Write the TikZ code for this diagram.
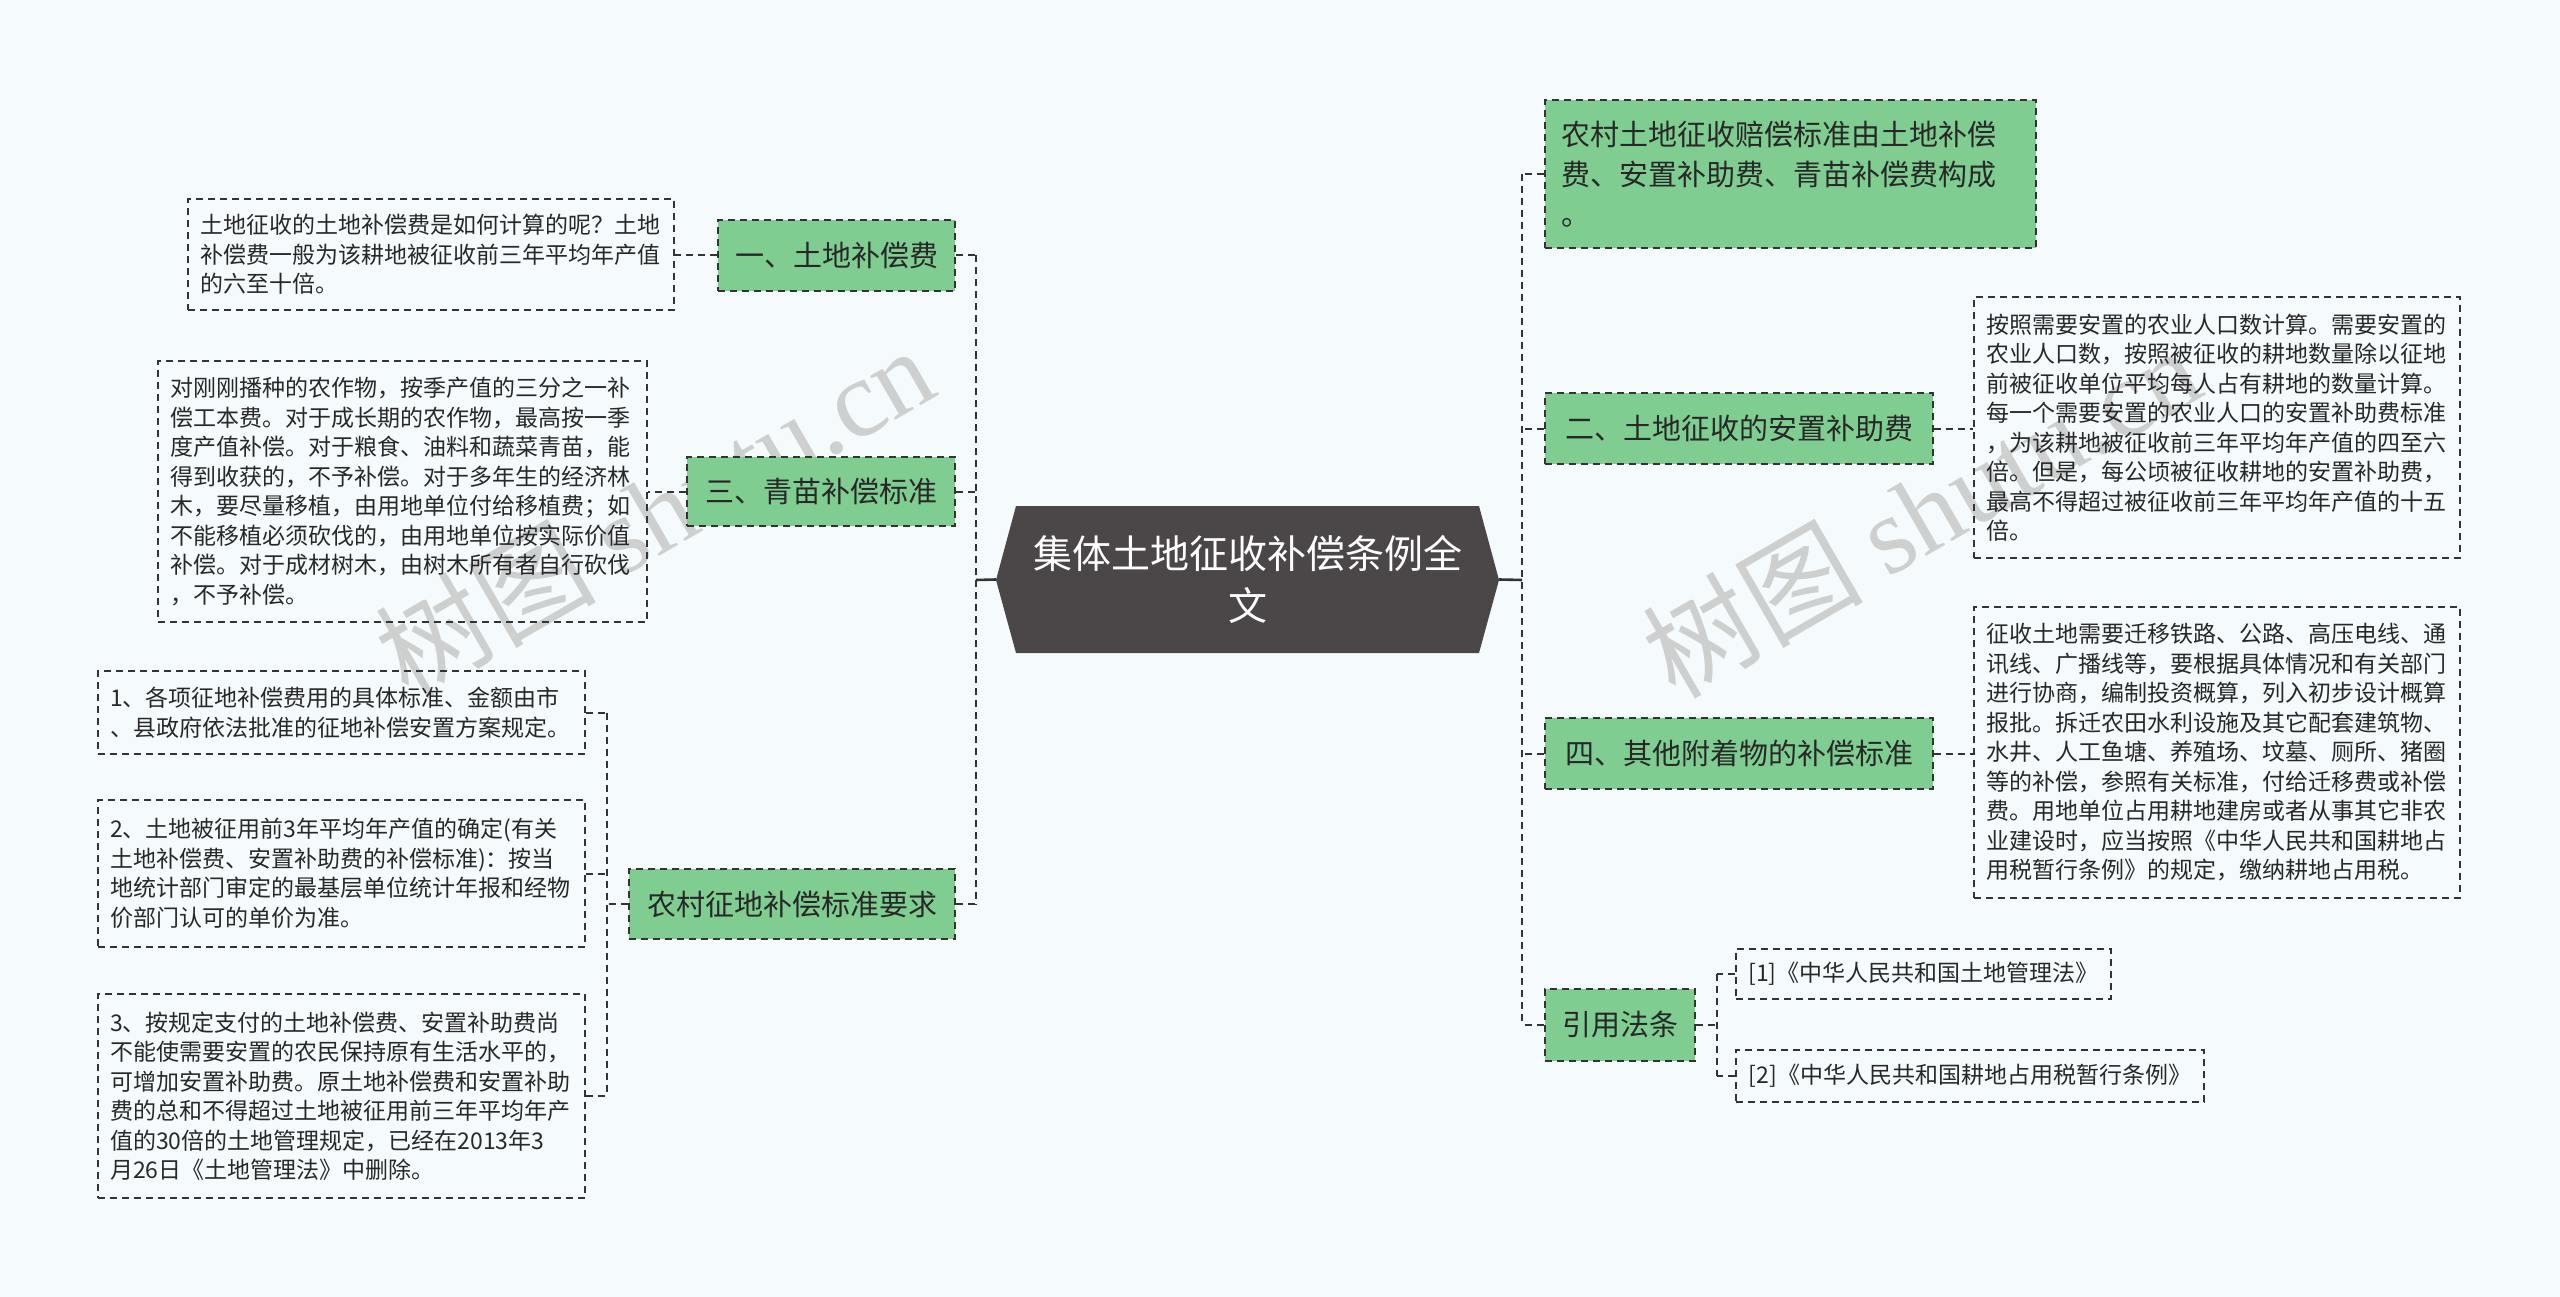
\documentclass[tikz,border=0pt]{standalone}
\usepackage{fontspec}
\setmainfont{Noto Sans CJK SC}
\newfontfamily\wmlatin{Liberation Serif}
\definecolor{bgc}{RGB}{245,251,253}
\definecolor{gfill}{RGB}{127,205,145}
\definecolor{bordc}{RGB}{51,51,51}
\definecolor{txtc}{RGB}{40,40,40}
\definecolor{cfill}{RGB}{75,70,71}
\definecolor{wmc}{RGB}{206,208,208}
\begin{document}
\begin{tikzpicture}[x=1pt,y=-1pt,
 dsh/.style={dash pattern=on 7pt off 5pt},
 tbox/.style={draw=bordc,dsh,line width=1.6pt,align=left,inner xsep=12pt,inner ysep=0pt,font=\fontsize{23}{29.5}\selectfont,text=txtc},
 gnode/.style={draw=bordc,dsh,fill=gfill,line width=1.6pt,inner sep=0pt,font=\fontsize{29}{40}\selectfont,text=txtc},
 conn/.style={draw=bordc,dsh,line width=2pt},
 spine/.style={draw=bordc,dsh,line width=2.6pt},
 solidc/.style={draw=bordc,line width=2.6pt},
 wm/.style={text=wmc,rotate=30,font=\fontsize{110}{110}\selectfont}]

\fill[bgc] (0,0) rectangle (2560,1297);
\useasboundingbox (0,0) rectangle (2560,1297);

% watermarks
\node[wm] (wm1) at (654,511) {树图 {\wmlatin shutu.cn}};
\node[wm] (wm2) at (1921,511) {树图 {\wmlatin shutu.cn}};

% central node
\fill[cfill] (996,580) -- (1016,506) -- (1479,506) -- (1499,580) -- (1479,653) -- (1016,653) -- cycle;
\node[font=\fontsize{39}{52}\selectfont,text=white,align=center,minimum width=503pt,minimum height=147pt,inner sep=0pt] (c) at (1247.5,579.5) {集体土地征收补偿条例全\\文};

\coordinate (ls) at (976,580);
\coordinate (rs) at (1522,580);
\coordinate (ns) at (607,904);
\coordinate (qs) at (1717,1025);

% left green nodes
\node[gnode,minimum width=237pt,minimum height=71pt] (g1) at (836.5,255.5) {一、土地补偿费};
\node[gnode,minimum width=268pt,minimum height=69pt] (g3) at (821,491.5) {三、青苗补偿标准};
\node[gnode,minimum width=326pt,minimum height=70pt] (gn) at (792,904) {农村征地补偿标准要求};

% right green nodes
\node[gnode,minimum width=491pt,minimum height=148pt,align=left,text width=459pt,inner xsep=16pt] (r1) at (1790.5,174) {农村土地征收赔偿标准由土地补偿\\费、安置补助费、青苗补偿费构成\\。};
\node[gnode,minimum width=388pt,minimum height=71pt] (r2) at (1739,428.5) {二、土地征收的安置补助费};
\node[gnode,minimum width=388pt,minimum height=71pt] (r4) at (1739,753.5) {四、其他附着物的补偿标准};
\node[gnode,minimum width=150pt,minimum height=72pt] (rl) at (1620,1025) {引用法条};

% left text boxes
\node[tbox,text width=462pt,minimum height=111pt] (b1) at (431,254.5) {土地征收的土地补偿费是如何计算的呢？土地\\补偿费一般为该耕地被征收前三年平均年产值\\的六至十倍。};
\node[tbox,text width=465pt,minimum height=261pt] (b3) at (402.5,491.5) {对刚刚播种的农作物，按季产值的三分之一补\\偿工本费。对于成长期的农作物，最高按一季\\度产值补偿。对于粮食、油料和蔬菜青苗，能\\得到收获的，不予补偿。对于多年生的经济林\\木，要尽量移植，由用地单位付给移植费；如\\不能移植必须砍伐的，由用地单位按实际价值\\补偿。对于成材树木，由树木所有者自行砍伐\\，不予补偿。};
\node[tbox,text width=463pt,minimum height=83pt] (ba) at (341.5,712.5) {1、各项征地补偿费用的具体标准、金额由市\\、县政府依法批准的征地补偿安置方案规定。};
\node[tbox,text width=463pt,minimum height=147pt] (bb) at (341.5,873.5) {2、土地被征用前3年平均年产值的确定(有关\\土地补偿费、安置补助费的补偿标准)：按当\\地统计部门审定的最基层单位统计年报和经物\\价部门认可的单价为准。};
\node[tbox,text width=463pt,minimum height=204pt] (bc) at (341.5,1096) {3、按规定支付的土地补偿费、安置补助费尚\\不能使需要安置的农民保持原有生活水平的，\\可增加安置补助费。原土地补偿费和安置补助\\费的总和不得超过土地被征用前三年平均年产\\值的30倍的土地管理规定，已经在2013年3\\月26日《土地管理法》中删除。};

% right text boxes
\node[tbox,text width=462pt,minimum height=261pt] (br2) at (2217,427.5) {按照需要安置的农业人口数计算。需要安置的\\农业人口数，按照被征收的耕地数量除以征地\\前被征收单位平均每人占有耕地的数量计算。\\每一个需要安置的农业人口的安置补助费标准\\，为该耕地被征收前三年平均年产值的四至六\\倍。但是，每公顷被征收耕地的安置补助费，\\最高不得超过被征收前三年平均年产值的十五\\倍。};
\node[tbox,text width=462pt,minimum height=291pt] (br4) at (2217,752.5) {征收土地需要迁移铁路、公路、高压电线、通\\讯线、广播线等，要根据具体情况和有关部门\\进行协商，编制投资概算，列入初步设计概算\\报批。拆迁农田水利设施及其它配套建筑物、\\水井、人工鱼塘、养殖场、坟墓、厕所、猪圈\\等的补偿，参照有关标准，付给迁移费或补偿\\费。用地单位占用耕地建房或者从事其它非农\\业建设时，应当按照《中华人民共和国耕地占\\用税暂行条例》的规定，缴纳耕地占用税。};
\node[tbox,minimum width=375pt,minimum height=50pt] (f1) at (1923.5,974) {[1]《中华人民共和国土地管理法》};
\node[tbox,minimum width=468pt,minimum height=52pt] (f2) at (1970,1076) {[2]《中华人民共和国耕地占用税暂行条例》};

% connectors left
\draw[solidc] (c.west) -- (ls);
\draw[spine] (g1.east -| ls) -- (gn.east -| ls);
\draw[conn] (g1.east) -- (g1.east -| ls);
\draw[conn] (g3.east) -- (g3.east -| ls);
\draw[conn] (gn.east) -- (gn.east -| ls);
\draw[conn] (g1.west) -- (g1.west -| b1.east);
\draw[conn] (g3.west) -- (g3.west -| b3.east);
\draw[conn] (gn.west) -- (gn.west -| ns);
\draw[conn] (ba.east -| ns) -- (bc.east -| ns);
\draw[conn] (ba.east) -- (ba.east -| ns);
\draw[conn] (bb.east) -- (bb.east -| ns);
\draw[conn] (bc.east) -- (bc.east -| ns);

% connectors right
\draw[solidc] (c.east) -- (rs);
\draw[spine] (r1.west -| rs) -- (rl.west -| rs);
\draw[conn] (r1.west) -- (r1.west -| rs);
\draw[conn] (r2.west) -- (r2.west -| rs);
\draw[conn] (r4.west) -- (r4.west -| rs);
\draw[conn] (rl.west) -- (rl.west -| rs);
\draw[conn] (r2.east) -- (r2.east -| br2.west);
\draw[conn] (r4.east) -- (r4.east -| br4.west);
\draw[conn] (rl.east) -- (rl.east -| qs);
\draw[conn] (f1.west -| qs) -- (f2.west -| qs);
\draw[conn] (f1.west) -- (f1.west -| qs);
\draw[conn] (f2.west) -- (f2.west -| qs);
\end{tikzpicture}
\end{document}
